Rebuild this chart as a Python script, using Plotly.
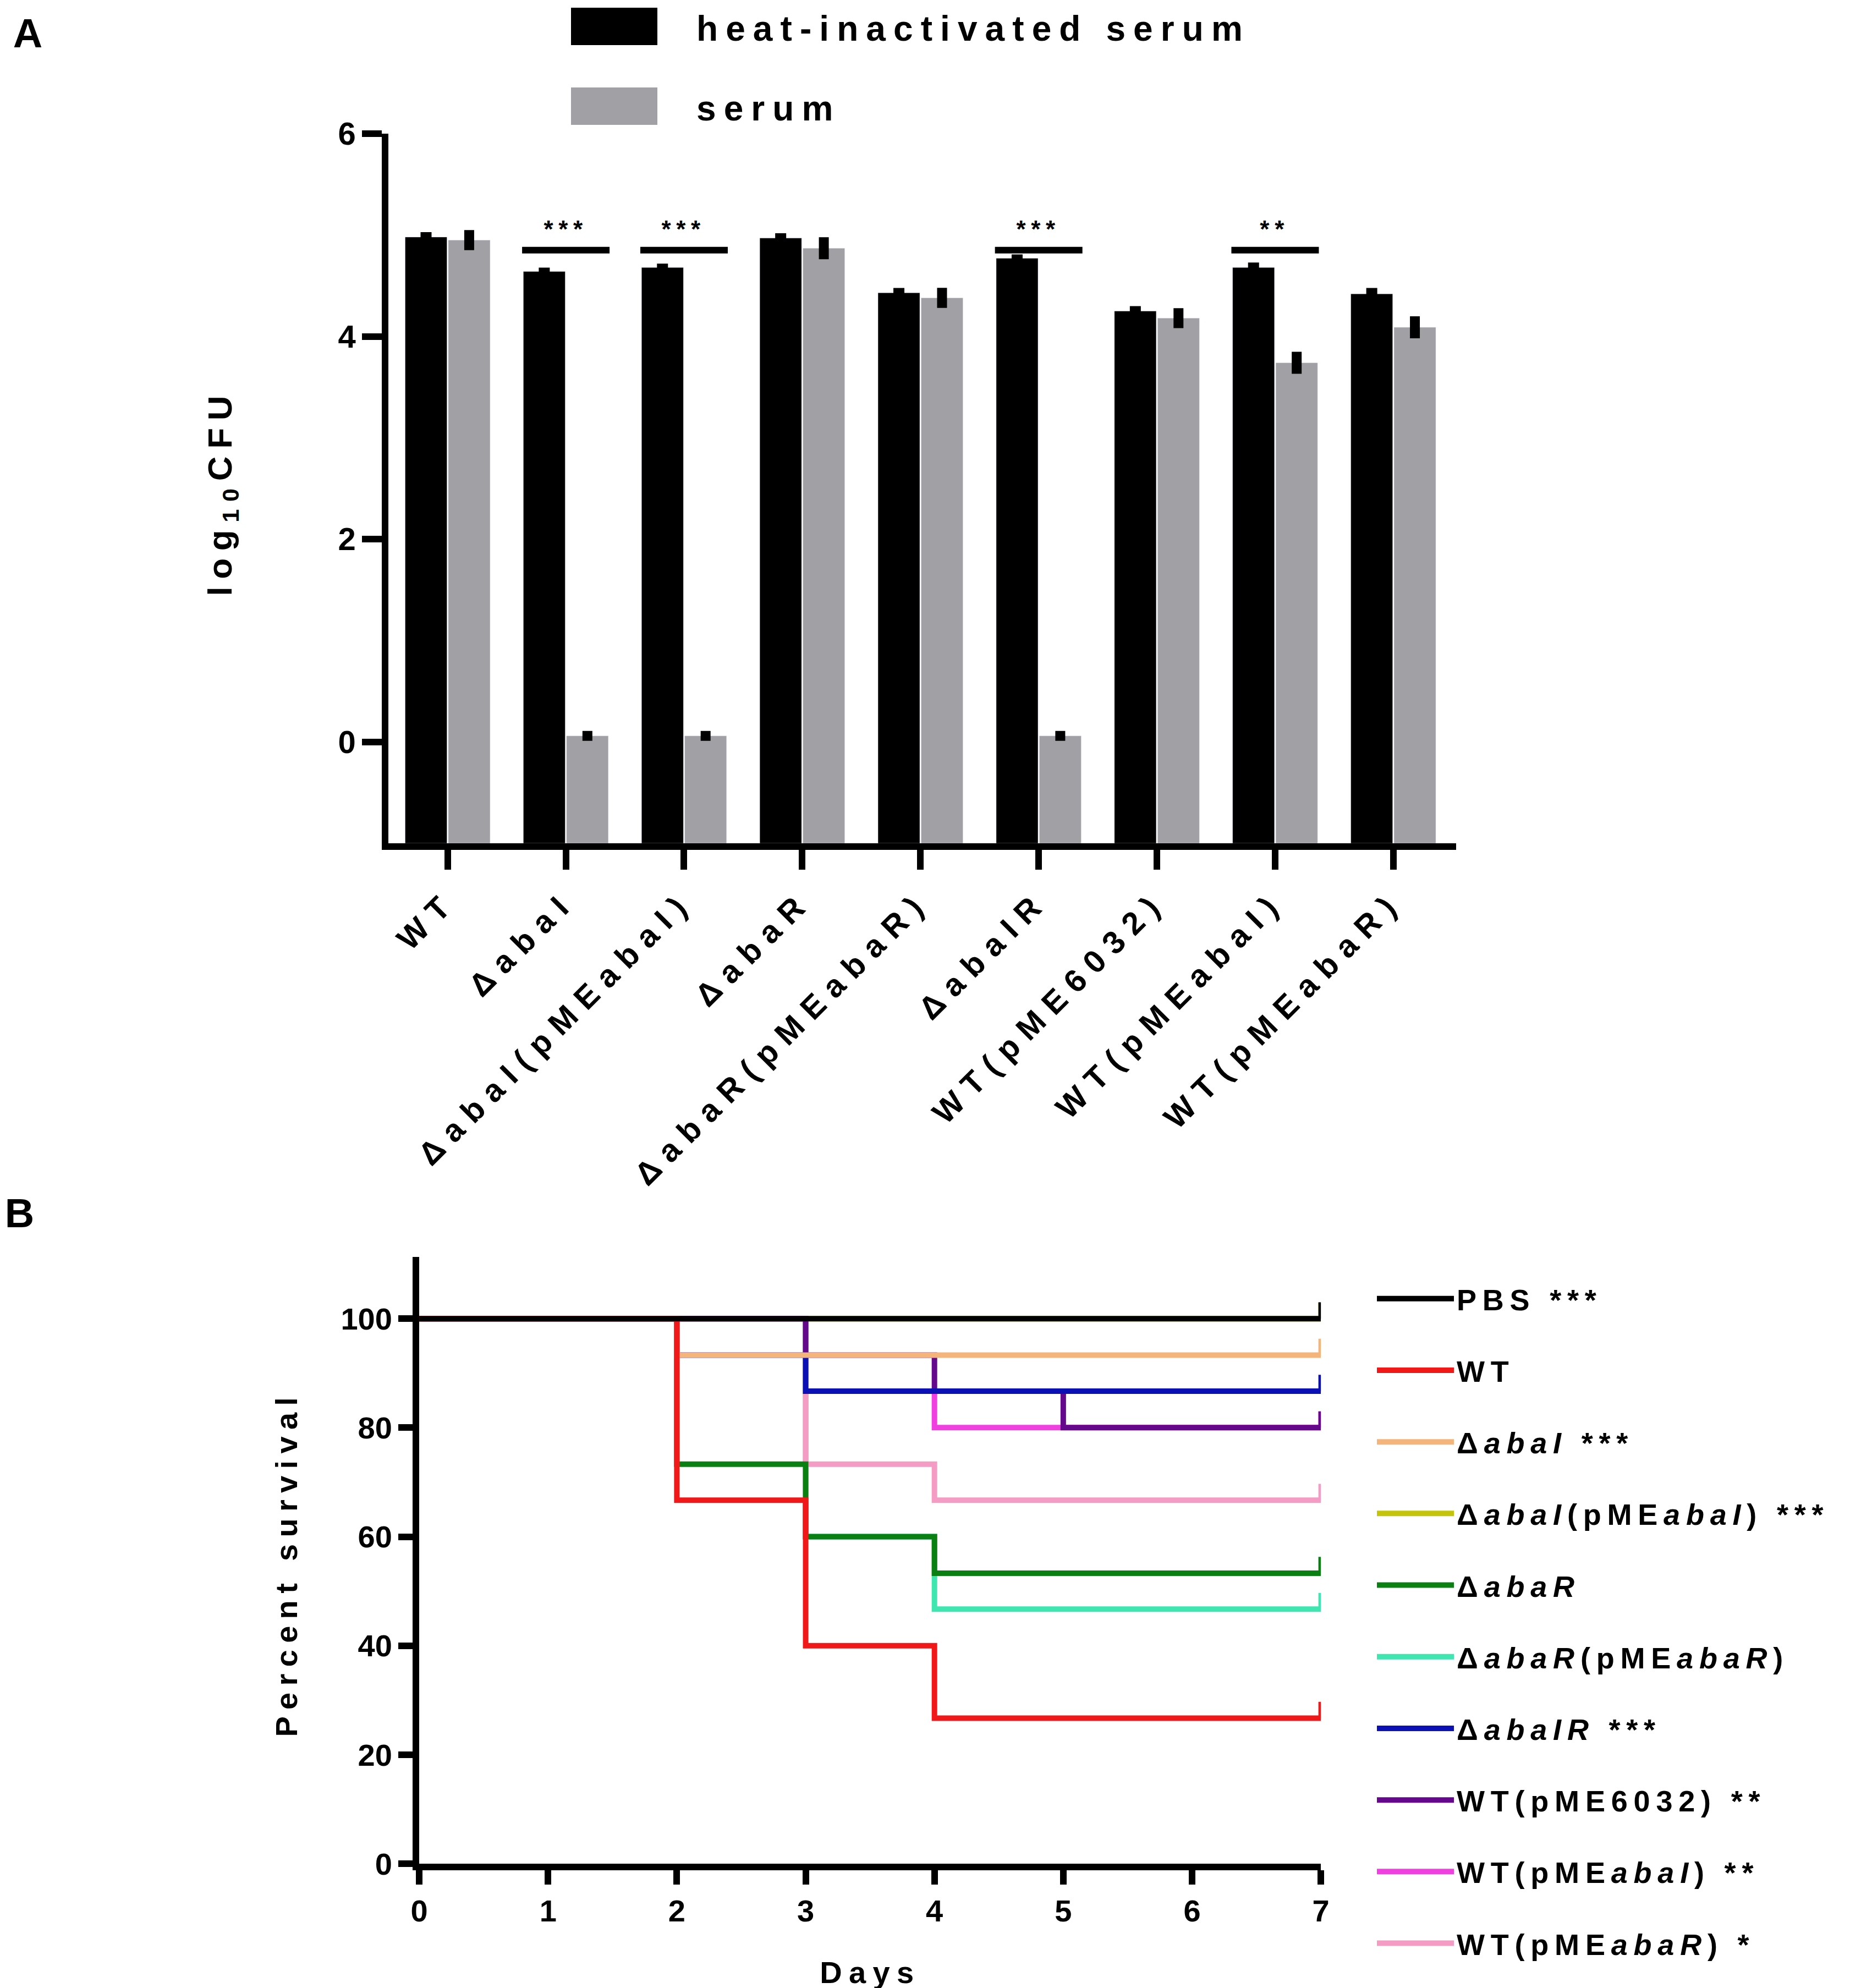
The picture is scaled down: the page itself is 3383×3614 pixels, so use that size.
import numpy as np
import plotly.graph_objects as go

# ---- Panel A: serum resistance (log10 CFU) ----
strains = ["WT", "ΔabaI", "ΔabaI(pMEabaI)", "ΔabaR", "ΔabaR(pMEabaR)",
           "ΔabaIR", "WT(pME6032)", "WT(pMEabaI)", "WT(pMEabaR)"]
heat_inactivated = [4.98, 4.64, 4.68, 4.97, 4.43, 4.77, 4.25, 4.68, 4.42]
heat_inactivated_err = [0.01, None, None, 0.01, 0.01, None, 0.01, 0.01, 0.02]
serum = [4.95, 0.06, 0.06, 4.87, 4.38, 0.06, 4.18, 3.74, 4.09]
serum_err = [0.05, None, None, 0.06, 0.05, None, 0.05, 0.06, 0.06]
sig_strains = ["ΔabaI", "ΔabaI(pMEabaI)", "ΔabaIR", "WT(pMEabaI)"]
sig_marks = ["***", "***", "***", "**"]
sig_level = 4.85
y_floor = -1

# ---- Panel B: survival (percent) ----
pbs_days = [0, 7]
pbs_surv = [100, 100]
wt_days = [0, 2, 3, 4, 7]
wt_surv = [100, 66.7, 40.0, 26.7, 26.7]
abaI_days = [0, 2, 7]
abaI_surv = [100, 93.3, 93.3]
abaI_comp_days = [0, 7]
abaI_comp_surv = [100, 100]
abaR_days = [0, 2, 3, 4, 7]
abaR_surv = [100, 73.3, 60.0, 53.3, 53.3]
abaR_comp_days = [0, 3, 4, 7]
abaR_comp_surv = [100, 60.0, 46.7, 46.7]
abaIR_days = [0, 2, 3, 7]
abaIR_surv = [100, 93.3, 86.7, 86.7]
wt6032_days = [0, 3, 4, 5, 7]
wt6032_surv = [100, 93.3, 86.7, 80.0, 80.0]
wtabaI_days = [0, 3, 4, 7]
wtabaI_surv = [100, 86.7, 80.0, 80.0]
wtabaR_days = [0, 3, 4, 7]
wtabaR_surv = [100, 73.3, 66.7, 66.7]
censor_tick = 3.0   # length of the end-of-study tick mark (percent units)

survival_names = ["PBS ***", "WT", "Δ<i>abaI</i> ***", "Δ<i>abaI</i>(pME<i>abaI</i>) ***",
                  "Δ<i>abaR</i>", "Δ<i>abaR</i>(pME<i>abaR</i>)", "Δ<i>abaIR</i> ***",
                  "WT(pME6032) **", "WT(pME<i>abaI</i>) **", "WT(pME<i>abaR</i>) *"]
survival_colors = ["#000000", "#f01818", "#f4b47a", "#c4c40a", "#0a7f12",
                   "#3fe6b0", "#0a10b4", "#64088c", "#f040e0", "#f49cc4"]

survival_series = [(pbs_days, pbs_surv), (wt_days, wt_surv), (abaI_days, abaI_surv),
                   (abaI_comp_days, abaI_comp_surv), (abaR_days, abaR_surv),
                   (abaR_comp_days, abaR_comp_surv), (abaIR_days, abaIR_surv),
                   (wt6032_days, wt6032_surv), (wtabaI_days, wtabaI_surv),
                   (wtabaR_days, wtabaR_surv)]
# stacking order of the curves, bottom to top
draw_order = [5, 3, 8, 9, 7, 6, 4, 2, 1, 0]

FONT = "Liberation Sans"
W, H = 3383, 3614

fig = go.Figure()

# Bars are drawn from the bottom of the axis (-1), like the original
fig.add_trace(go.Bar(
    x=strains, y=np.array(heat_inactivated) - y_floor, base=y_floor,
    name="heat-inactivated serum", marker_color="#000000", showlegend=False,
    error_y=dict(type="data", array=heat_inactivated_err, color="#000000",
                 thickness=14, width=10),
    xaxis="x", yaxis="y",
))
fig.add_trace(go.Bar(
    x=strains, y=np.array(serum) - y_floor, base=y_floor,
    name="serum", marker_color="#a0a0a5", showlegend=False,
    error_y=dict(type="data", array=serum_err, color="#000000", thickness=18, width=9),
    xaxis="x", yaxis="y",
))

# significance brackets
for s, mark in zip(sig_strains, sig_marks):
    i = strains.index(s)
    fig.add_shape(type="line", xref="x", yref="y", x0=i - 0.37, x1=i + 0.37,
                  y0=sig_level, y1=sig_level, line=dict(color="black", width=12))
    fig.add_annotation(x=i, y=sig_level, xref="x", yref="y", text=mark, showarrow=False,
                       yanchor="bottom", yshift=12,
                       font=dict(family=FONT, size=44, color="black", weight="bold"))

# survival curves
for k in draw_order:
    d, s = survival_series[k]
    fig.add_trace(go.Scatter(
        x=d, y=s, mode="lines", line_shape="hv", name=survival_names[k],
        line=dict(color=survival_colors[k], width=10),
        error_y=dict(type="data", symmetric=False,
                     array=[0] * (len(d) - 1) + [censor_tick],
                     arrayminus=[0] * len(d), color=survival_colors[k],
                     thickness=9, width=0),
        cliponaxis=False, xaxis="x2", yaxis="y2", legend="legend2",
        legendrank=k + 1, legendgroup=str(k),
    ))

axis_common = dict(showline=True, linecolor="black", linewidth=12, ticks="outside",
                   tickcolor="black", tickwidth=12, showgrid=False, zeroline=False,
                   mirror=False)

fig.update_layout(
    width=W, height=H, autosize=False,
    margin=dict(l=0, r=0, t=0, b=0, autoexpand=False),
    paper_bgcolor="white", plot_bgcolor="white",
    font=dict(family=FONT, color="black"),
    barmode="group", bargap=0.27, bargroupgap=0.03,
    xaxis=dict(domain=[0.2064, 0.780], range=[-0.5, 8.53], anchor="y", ticklen=36,
               tickangle=-45, tickfont=dict(family=FONT, size=58, weight="bold"),
               **axis_common),
    yaxis=dict(domain=[0.578, 0.935], range=[-1, 6], anchor="x", tickvals=[0, 2, 4, 6],
               ticklen=36, tickfont=dict(family=FONT, size=58, weight="bold"),
               **axis_common),
    xaxis2=dict(domain=[0.2229, 0.7074], range=[0, 7], anchor="y2", tickvals=list(range(8)),
                ticklen=26, tickfont=dict(family=FONT, size=56, weight="bold"),
                **axis_common),
    yaxis2=dict(domain=[0.0647, 0.3699], range=[0, 111.3], anchor="x2",
                tickvals=[0, 20, 40, 60, 80, 100], ticklen=26,
                tickfont=dict(family=FONT, size=56, weight="bold"), **axis_common),
    legend2=dict(x=2490 / W, y=0.3605, xanchor="left", yanchor="top",
                 bgcolor="rgba(0,0,0,0)", font=dict(family=FONT, size=54, weight="bold"),
                 tracegroupgap=57, itemwidth=140),
)

# legend of panel A: colour keys + labels
legend_a = [("heat-inactivated serum", "#000000", 40), ("serum", "#a0a0a5", 185)]
for label, colr, yc in legend_a:
    fig.add_shape(type="rect", xref="paper", yref="paper", x0=1030 / W, x1=1187 / W,
                  y0=1 - (yc + 34) / H, y1=1 - (yc - 34) / H, fillcolor=colr,
                  line=dict(width=0))
    fig.add_annotation(text=label, x=1256 / W, y=1 - (yc + 4) / H, xref="paper",
                       yref="paper", showarrow=False, xanchor="left", yanchor="middle",
                       align="left", font=dict(family=FONT, size=64, weight="bold"))

# axis titles and panel letters
fig.add_annotation(text="log<sub>10</sub>CFU", x=396 / W, y=1 - 887 / H, xref="paper",
                   yref="paper", showarrow=False, textangle=-90,
                   xanchor="center", yanchor="middle",
                   font=dict(family=FONT, size=62, weight="bold"))
fig.add_annotation(text="Percent survival", x=512 / W, y=1 - 2835 / H, xref="paper",
                   yref="paper", showarrow=False, textangle=-90,
                   xanchor="center", yanchor="middle",
                   font=dict(family=FONT, size=56, weight="bold"))
fig.add_annotation(text="Days", x=1574 / W, y=1 - 3577 / H, xref="paper", yref="paper",
                   showarrow=False, xanchor="center", yanchor="middle",
                   font=dict(family=FONT, size=56, weight="bold"))
fig.add_annotation(text="A", x=50 / W, y=1 - 52 / H, xref="paper", yref="paper",
                   showarrow=False, xanchor="center", yanchor="middle",
                   font=dict(family=FONT, size=74, weight="bold"))
fig.add_annotation(text="B", x=35 / W, y=1 - 2197 / H, xref="paper", yref="paper",
                   showarrow=False, xanchor="center", yanchor="middle",
                   font=dict(family=FONT, size=74, weight="bold"))

# the original figure uses widely tracked lettering
spacing_js = """
var css = document.createElement('style');
css.textContent =
    '.xtick text { letter-spacing: 0.3em !important; }' +
    '.legendtext, .legend2 text, .legend text { letter-spacing: 0.2em !important; }' +
    '.annotation-text { letter-spacing: 0.22em !important; }' +
    '.legend *, .legend2 * { clip-path: none !important; }';
document.head.appendChild(css);
"""

fig.write_html("out.html", post_script=spacing_js)
